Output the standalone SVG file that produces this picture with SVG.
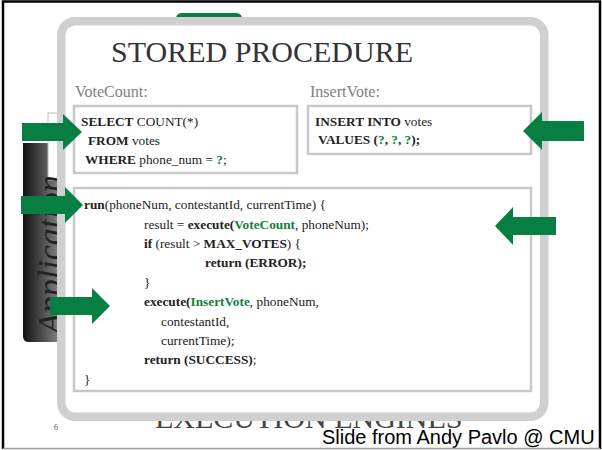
<svg xmlns="http://www.w3.org/2000/svg" width="602" height="450" viewBox="0 0 602 450">
<style>
.code{font-family:"Liberation Serif","Times New Roman",serif;font-size:13.3px;fill:#222}
.b{font-weight:bold}
.g{fill:#12803f;font-weight:bold}
.lbl{font-family:"Liberation Serif","Times New Roman",serif;font-size:16px;fill:#808080}
.box{fill:#fff;stroke:#c8c8c8;stroke-width:2.5}
.arrow{fill:#087f42}
</style>
<defs>
<linearGradient id="bar" x1="0" x2="1" y1="0" y2="0"><stop offset="0" stop-color="#111"/><stop offset="1" stop-color="#8a8a8a"/></linearGradient>
</defs>
<rect x="0" y="0" width="602" height="450" fill="#fff"/>
<g id="background">
<path d="M23,143 H62 V342 H29 Q23,342 23,336 Z" fill="url(#bar)"/>
<rect x="48" y="113" width="20" height="67" fill="#fff" stroke="#bbb" stroke-width="1"/>
<text transform="translate(61,334) rotate(-90)" font-family="Liberation Serif,Times New Roman,serif" font-style="italic" font-size="34" fill="#222">Application</text>
<text x="155" y="428" font-family="Liberation Serif,Times New Roman,serif" font-size="30" fill="#444">EXECUTION ENGINES</text>
<path d="M176,17.5 Q177,13 182,13 H236 Q241,13 242,17.5 Z" fill="#0a7f42"/>
<rect x="61.25" y="21.25" width="483" height="395.5" rx="14" fill="#fff" stroke="#d0d0d0" stroke-width="8.5"/>
<text x="111" y="62" font-family="Liberation Serif,Times New Roman,serif" font-size="30" fill="#333">STORED PROCEDURE</text>
<text x="54" y="430" font-family="Liberation Serif,Times New Roman,serif" font-size="8" fill="#555">6</text>
<text x="322" y="444" font-family="Liberation Sans,Arial,sans-serif" font-size="20" fill="#000">Slide from Andy Pavlo @ CMU</text>
</g>
<g id="votecount">
<text class="lbl" x="75" y="97">VoteCount:</text>
<rect class="box" x="74" y="106" width="223" height="67"/>
<text class="code" x="81" y="126"><tspan class="b">SELECT</tspan> COUNT(*)</text>
<text class="code" x="88" y="145"><tspan class="b">FROM</tspan> votes</text>
<text class="code" x="85" y="164"><tspan class="b">WHERE</tspan> phone_num = <tspan class="g">?</tspan>;</text>
</g>
<g id="insertvote">
<text class="lbl" x="310" y="97">InsertVote:</text>
<rect class="box" x="308" y="106" width="223" height="48"/>
<text class="code" x="315" y="126"><tspan class="b">INSERT INTO</tspan> votes</text>
<text class="code b" x="318" y="144">VALUES (<tspan class="g">?</tspan>, <tspan class="g">?</tspan>, <tspan class="g">?</tspan>);</text>
</g>
<g id="run">
<rect class="box" x="74" y="188" width="457" height="203"/>
<text class="code" x="84" y="209"><tspan class="b">run</tspan>(phoneNum, contestantId, currentTime) {</text>
<text class="code" x="144" y="229">result = <tspan class="b">execute(</tspan><tspan class="g">VoteCount</tspan>, phoneNum);</text>
<text class="code" x="144" y="248"><tspan class="b">if</tspan> (result &gt; <tspan class="b">MAX_VOTES</tspan>) {</text>
<text class="code b" x="205" y="267">return (ERROR);</text>
<text class="code" x="144" y="287">}</text>
<text class="code" x="144" y="306"><tspan class="b">execute(</tspan><tspan class="g">InsertVote</tspan>, phoneNum,</text>
<text class="code" x="161" y="326">contestantId,</text>
<text class="code" x="161" y="345">currentTime);</text>
<text class="code" x="144" y="364"><tspan class="b">return (SUCCESS)</tspan>;</text>
<text class="code" x="84" y="384">}</text>
</g>
<g id="connectors">
<polygon class="arrow" points="22,123 63,123 63,114 82,132 63,150 63,141 22,141"/>
<polygon class="arrow" points="21,196 65,196 65,187 83,205 65,223 65,214 21,214"/>
<polygon class="arrow" points="50,297 92,297 92,288 110,306 92,324 92,315 50,315"/>
<polygon class="arrow" points="584,121 542,121 542,112 523,131 542,150 542,141 584,141"/>
<polygon class="arrow" points="556,217 513,217 513,207 495,226 513,245 513,235 556,235"/>
</g>
<g id="border">
<path d="M3,449 V1.5 H600 V449" fill="none" stroke="#000" stroke-width="2.5"/>
<line x1="3" y1="448.5" x2="600" y2="448.5" stroke="#999" stroke-width="1.5"/>
</g>
</svg>
